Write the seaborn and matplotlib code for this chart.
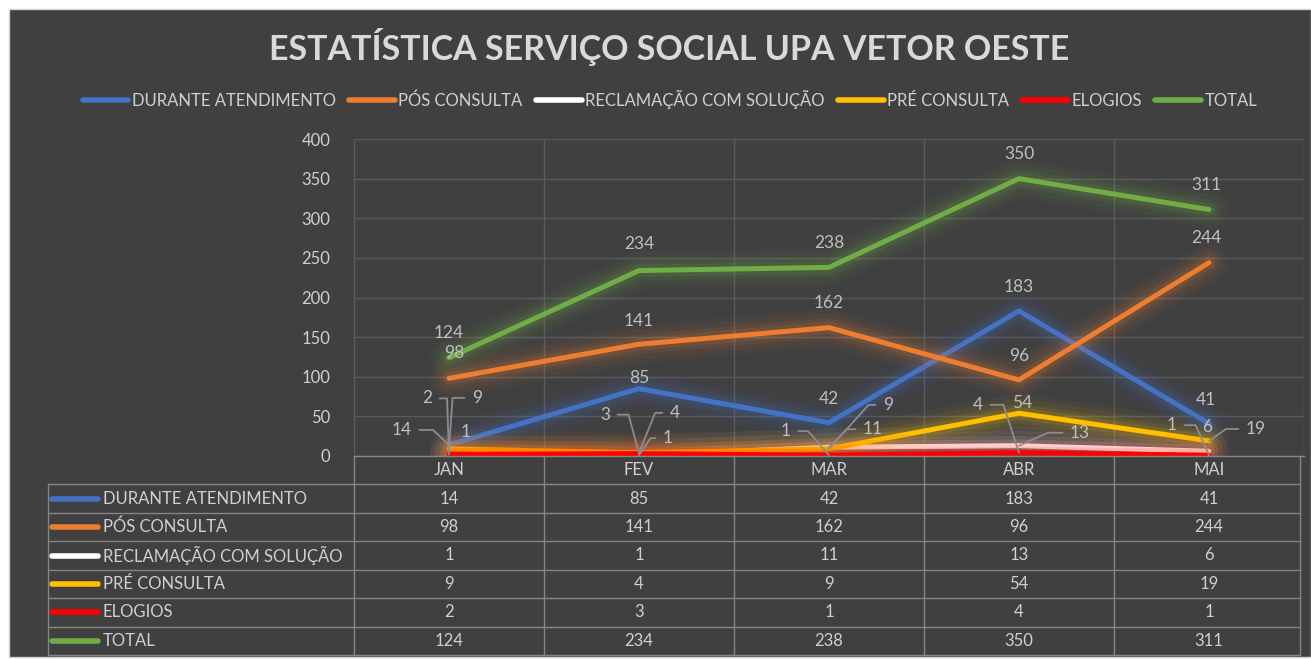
import numpy as np
import pandas as pd
import matplotlib
matplotlib.use("Agg")
import matplotlib.pyplot as plt
import seaborn as sns
from matplotlib import patheffects as pe
from matplotlib.lines import Line2D
from matplotlib.patches import Rectangle
import matplotlib.transforms as mtrans

# ---------------- data ----------------
months = ["JAN", "FEV", "MAR", "ABR", "MAI"]
series_names = ["DURANTE ATENDIMENTO", "PÓS CONSULTA", "RECLAMAÇÃO COM SOLUÇÃO",
                "PRÉ CONSULTA", "ELOGIOS", "TOTAL"]
durante = [14, 85, 42, 183, 41]
pos_consulta = [98, 141, 162, 96, 244]
reclamacao = [1, 1, 11, 13, 6]
pre_consulta = [9, 4, 9, 54, 19]
elogios = [2, 3, 1, 4, 1]
total = [124, 234, 238, 350, 311]
yticks = [0, 50, 100, 150, 200, 250, 300, 350, 400]
title = "ESTATÍSTICA SERVIÇO SOCIAL UPA VETOR OESTE"

values = [durante, pos_consulta, reclamacao, pre_consulta, elogios, total]
colors = ["#4472C4", "#ED7D31", "#FFFFFF", "#FFC000", "#FF0000", "#70AD47"]

# label placement styles: (dx px, dy px, leader angle or None, side)
label_style = {
    "DURANTE ATENDIMENTO": [(-47, 15, 137, "L"), (0, 11, None, ""), (0, 24, None, ""),
                            (0, 24, None, ""), (-3, 24, None, "")],
    "PÓS CONSULTA": [(5, 25, None, ""), (0, 23, None, ""), (0, 25, None, ""),
                     (0, 24, None, ""), (-3, 25, None, "")],
    "RECLAMAÇÃO COM SOLUÇÃO": [(17, 23, None, ""), (29, 17, 56, "R"), (44, 18, 45, "R"),
                               (61, 13, 24, "R"), (-2, 24, None, "")],
    "PRÉ CONSULTA": [(28, 51, 86, "R"), (36, 40, 68, "R"), (59, 44, 48, "R"),
                     (3, 10, None, ""), (47, 12, 35, "R")],
    "ELOGIOS": [(-22, 56, 92, "L"), (-34, 39, 105, "L"), (-43, 24, 131, "L"),
                (-41, 48, 108, "L"), (-37, 30, 114, "L")],
    "TOTAL": [(0, 25, None, ""), (0, 27, None, ""), (0, 24, None, ""),
              (0, 25, None, ""), (-3, 25, None, "")],
}

BG = "#404040"
TXT = "#D0D0D0"
LBL = "#BFBFBF"
GRID = "#5A5A5A"
TLINE = "#858585"

sns.set_theme(style="dark")
plt.rcParams["font.family"] = ["Lato", "DejaVu Sans"]

W, H = 1311, 659
fig = plt.figure(figsize=(W / 100, H / 100), dpi=100, facecolor="white")
fig.patches.append(Rectangle((9 / W, 2 / H), (W - 9) / W, (657 - 9) / H,
                             transform=fig.transFigure, facecolor=BG,
                             edgecolor="#D0D0D0", lw=1, zorder=-10))

ax = fig.add_axes([354 / W, 1 - 456 / H, 950 / W, 317 / H])
ax.set_facecolor(BG)

rows = []
for name, vals in zip(series_names, values):
    for i, m in enumerate(months):
        rows.append({"pos": i, "month": m, "serie": name, "valor": vals[i]})
df = pd.DataFrame(rows)

sns.lineplot(data=df, x="pos", y="valor", hue="serie", hue_order=series_names,
             palette=dict(zip(series_names, colors)), linewidth=3.6,
             legend=False, ax=ax, sort=False)

for line, c in zip(ax.get_lines(), colors):
    line.set_solid_capstyle("round")
    line.set_solid_joinstyle("round")
    line.set_path_effects([
        pe.Stroke(linewidth=28, foreground=c, alpha=0.04),
        pe.Stroke(linewidth=21, foreground=c, alpha=0.06),
        pe.Stroke(linewidth=14, foreground=c, alpha=0.09),
        pe.Stroke(linewidth=9, foreground=c, alpha=0.13),
        pe.Normal()])

ax.set_xlim(-0.5, 4.5)
ax.set_ylim(0, 400)
ax.set_yticks(yticks)
ax.set_yticklabels([str(t) for t in yticks], color=TXT, fontsize=12)
ax.set_xticks([])
ax.set_xticks(np.arange(-0.5, 5, 1), minor=True)
ax.tick_params(axis="y", length=0, pad=17)
ax.tick_params(axis="x", which="both", length=0, labelbottom=False)
ax.grid(True, axis="y", color=GRID, lw=1)
ax.grid(True, axis="x", which="minor", color=GRID, lw=1)
ax.grid(False, axis="x", which="major")
for s in ["left", "right", "top"]:
    ax.spines[s].set_visible(False)
ax.spines["bottom"].set_color(TLINE)
ax.spines["bottom"].set_linewidth(1)
ax.set_xlabel("")
ax.set_ylabel("")

# data labels
for name, vals in zip(series_names, values):
    for i, v in enumerate(vals):
        dx, dy, ang, side = label_style[name][i]
        kw = {}
        if ang is not None:
            kw["arrowprops"] = dict(arrowstyle="-", color="#8C8C8C", lw=1.3,
                                    shrinkA=3, shrinkB=0,
                                    relpos=(1, 0.5) if side == "L" else (0, 0.5),
                                    connectionstyle=f"angle,angleA=0,angleB={ang},rad=0")
        ax.annotate(str(v), xy=(i, v), xytext=(dx, dy), textcoords="offset pixels",
                    ha="center", va="center", color=LBL, fontsize=12.5,
                    annotation_clip=False, zorder=10, **kw)

# title
fig.text(669 / W, 1 - 47 / H, title, ha="center", va="center",
         color="#D9D9D9", fontsize=24.5, fontweight="bold")

# legend
handles = [Line2D([0], [0], color=c, lw=4, solid_capstyle="round") for c in colors]
fig.legend(handles, series_names, loc="center", bbox_to_anchor=(670 / W, 1 - 99 / H),
           ncol=6, frameon=False, fontsize=12, labelcolor=TXT,
           handlelength=2.75, handletextpad=0.2, columnspacing=0.8)

# data table
tax = fig.add_axes([48 / W, 1 - 655 / H, (1304 - 48) / W, 199 / H])
tax.axis("off")
x_left = -0.5 - 306 / 190
tax.set_xlim(x_left, 4.5)
tax.set_ylim(7, 0)
for i, m in enumerate(months):
    tax.text(i, 0.5, m, ha="center", va="center", color=TXT, fontsize=12)
for r, (name, vals, c) in enumerate(zip(series_names, values, colors), start=1):
    for i, v in enumerate(vals):
        tax.text(i, r + 0.5, str(v), ha="center", va="center", color=TXT, fontsize=12)
    bl = mtrans.blended_transform_factory(tax.transAxes, tax.transData)
    tax.plot([4 / 1256, 50 / 1256], [r + 0.5, r + 0.5], color=c, lw=4,
             solid_capstyle="round", transform=bl, clip_on=False)
    tax.text(55 / 1256, r + 0.5, name, transform=bl, ha="left", va="center",
             color=TXT, fontsize=12)
for r in range(1, 8):
    tax.plot([x_left, 4.5 - 4 / 190], [r, r], color=TLINE, lw=1, clip_on=False)
tax.plot([x_left, x_left], [1, 7], color=TLINE, lw=1, clip_on=False)
for xb in np.arange(-0.5, 5, 1):
    xx = min(xb, 4.5 - 4 / 190)
    tax.plot([xx, xx], [0, 7], color=TLINE, lw=1, clip_on=False)

fig.savefig("out.png", dpi=100, facecolor="white")
